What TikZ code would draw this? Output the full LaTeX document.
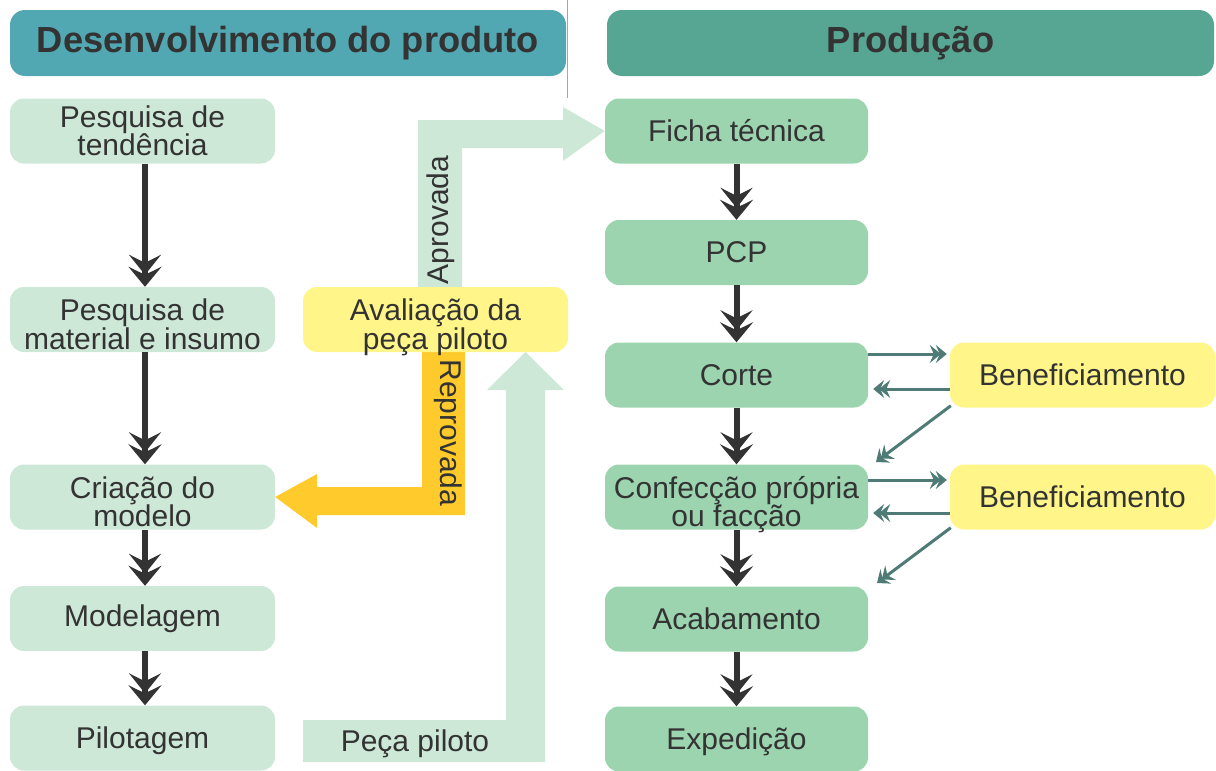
\documentclass[tikz,border=0pt]{standalone}
\usepackage{fontspec}
\setmainfont{Liberation Sans}
\usetikzlibrary{arrows.meta}
\definecolor{hdrL}{HTML}{52A8B2}
\definecolor{hdrR}{HTML}{57A693}
\definecolor{boxL}{HTML}{CDE8D7}
\definecolor{boxR}{HTML}{9BD4AF}
\definecolor{yelbox}{HTML}{FFF589}
\definecolor{orng}{HTML}{FFCA2B}
\definecolor{txtc}{HTML}{333333}
\definecolor{tealarr}{HTML}{4E7B76}
\definecolor{darkarr}{HTML}{333333}
\newcommand\dnstrut[1]{\rule{0pt}{#1}}
\pgfdeclarelayer{bg}
\pgfsetlayers{bg,main}
\begin{document}
\begin{tikzpicture}[x=1pt,y=-1pt,
  hdr/.style={rounded corners=15pt, minimum height=66pt, inner sep=0pt, text=txtc,
    font=\fontsize{36.3}{38}\selectfont\bfseries},
  box/.style={rounded corners=14pt, minimum width=265pt, minimum height=65pt, inner sep=0pt,
    align=center, text=txtc, font=\fontsize{30}{28.5}\selectfont},
  low/.style={text height=62pt, text depth=3pt},
  lbox/.style={box, fill=boxL},
  rbox/.style={box, fill=boxR, minimum width=263pt},
  ybox/.style={box, fill=yelbox},
  lbl/.style={text=txtc, inner sep=0pt, font=\fontsize{30}{28.5}\selectfont},
  darr/.style={draw=darkarr, line width=6pt,
    -{Stealth[length=20pt,width=32pt,inset=8pt,sep=-8pt]Stealth[length=20pt,width=33pt,inset=8pt]}},
  tarr/.style={draw=tealarr, line width=3pt,
    -{Stealth[length=11pt,width=18pt,inset=4pt,sep=-5pt]Stealth[length=11pt,width=18pt,inset=4pt]}},
  blockL/.style={fill=boxL},
  blockO/.style={fill=orng}
]
\useasboundingbox (0,0) rectangle (1216,771);
\draw[gray!70, line width=1pt] (567,0) -- (567,98);

% headers
\node[hdr, fill=hdrL, minimum width=556pt] (h1) at (288,43) {Desenvolvimento do produto};
\node[hdr, fill=hdrR, minimum width=607pt] (h2) at (910.5,43) {Produção};

% left column
\node[lbox] (pt) at (142.5,131) {Pesquisa de\\tendência};
\node[lbox, low] (pm) at (142.5,319.5) {Pesquisa de\\material e insumo};
\node[lbox, low] (cm) at (142.5,497) {Criação do\\modelo};
\node[lbox] (mo) at (142.5,618.5) {Modelagem};
\node[lbox] (pi) at (142.5,738) {\dnstrut{28pt}Pilotagem};

% evaluation
\node[ybox, low] (av) at (435.5,319.5) {Avaliação da\\peça piloto};

% right column
\node[rbox] (fi) at (736.5,131) {Ficha técnica};
\node[rbox] (pcp) at (736.5,252.5) {PCP};
\node[rbox] (co) at (736.5,375) {Corte};
\node[rbox, low] (cf) at (736.5,497) {Confecção própria\\ou facção};
\node[rbox] (ac) at (736.5,619) {Acabamento};
\node[rbox] (ex) at (736.5,739) {\dnstrut{28pt}Expedição};

\node[ybox] (b1) at (1082.5,375) {Beneficiamento};
\node[ybox] (b2) at (1082.5,497) {Beneficiamento};

% block arrows (behind)
\begin{pgfonlayer}{bg}
\fill[blockL] (418,287) -- (418,120) -- (563,120) -- (563,107) -- (fi.west) -- (563,161)
  -- (563,148) -- (462,148) -- (462,287) -- cycle;
\fill[blockO] (422,352) -- (465,352) -- (465,515) -- (317,515) -- (317,528) -- (cm.east)
  -- (317,474) -- (317,487) -- (422,487) -- cycle;
\fill[blockL] (303,720) -- (506,720) -- (506,390) -- (487,390) -- (525.5,352) -- (564,390)
  -- (545,390) -- (545,762) -- (303,762) -- cycle;
\end{pgfonlayer}

\node[lbl, rotate=90] (apr) at (441,220) {Aprovada};
\node[lbl, rotate=-90] (rep) at (448,433) {Reprovada};
\node[lbl] (pp) at (415,744) {Peça piloto};

% dark arrows
\draw[darr] ([xshift=2.5pt]pt.south) -- ([xshift=2.5pt]pm.north);
\draw[darr] ([xshift=2.5pt]pm.south) -- ([xshift=2.5pt]cm.north);
\draw[darr] ([xshift=2.5pt]cm.south) -- ([xshift=2.5pt]mo.north);
\draw[darr] ([xshift=2.5pt]mo.south) -- ([xshift=2.5pt]pi.north);
\draw[darr] (fi.south) -- (pcp.north);
\draw[darr] (pcp.south) -- (co.north);
\draw[darr] (co.south) -- (cf.north);
\draw[darr] (cf.south) -- (ac.north);
\draw[darr] (ac.south) -- (ex.north);

% teal arrows
\draw[tarr] ([yshift=21pt]co.east) -- ([yshift=21pt,xshift=-3pt]b1.west);
\draw[tarr] ([yshift=-14pt]b1.west) -- ([yshift=-14pt,xshift=5pt]co.east);
\coordinate (d1) at (876,462);
\draw[tarr] ([xshift=1pt,yshift=2pt]b1.south west) -- (d1);
\draw[tarr] ([yshift=17pt]cf.east) -- ([yshift=17pt,xshift=-3pt]b2.west);
\draw[tarr] ([yshift=-16pt]b2.west) -- ([yshift=-16pt,xshift=5pt]cf.east);
\coordinate (d2) at (877,583);
\draw[tarr] ([xshift=1pt,yshift=2pt]b2.south west) -- (d2);
\end{tikzpicture}
\end{document}
